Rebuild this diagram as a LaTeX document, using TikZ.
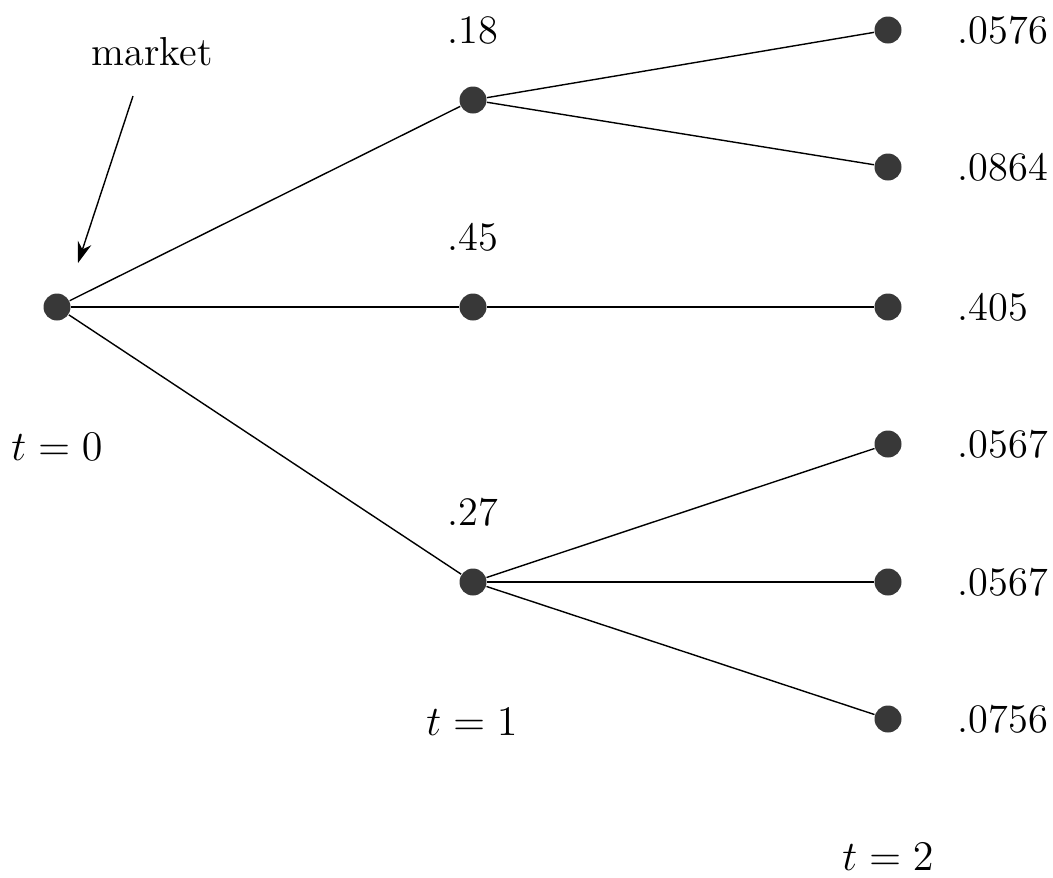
\documentclass[tikz,border=0pt]{standalone}
\usetikzlibrary{positioning,arrows.meta}
\begin{document}
\begin{tikzpicture}[
x=1cm, y=1cm,
node distance=0.41cm,
dot/.style={circle, fill=black!78, inner sep=0pt, minimum size=0.27cm},
val/.style={inner sep=0pt, font=\fontsize{11.5}{13}\selectfont},
edge/.style={line width=0.4pt}
]
\useasboundingbox (0,0) rectangle (10.53,-8.77);
% nodes of the tree
\node[dot] (root) at (0.57,-3.07) {};
\node[dot] (up) at (4.73,-1.00) {};
\node[dot] (mid) at (4.73,-3.07) {};
\node[dot] (down) at (4.73,-5.82) {};
\node[dot] (uu) at (8.88,-0.30) {};
\node[dot] (ud) at (8.88,-1.67) {};
\node[dot] (mm) at (8.88,-3.07) {};
\node[dot] (du) at (8.88,-4.44) {};
\node[dot] (dm) at (8.88,-5.82) {};
\node[dot] (dd) at (8.88,-7.19) {};
% probabilities
\node[val] (pup) [above=of up] {.18};
\node[val] (pmid) [above=of mid] {.45};
\node[val] (pdown) [above=of down] {.27};
\node[val] (puu) [right=0.55cm of uu] {.0576};
\node[val] (pud) [right=0.55cm of ud] {.0864};
\node[val] (pmm) [right=0.55cm of mm] {.405};
\node[val] (pdu) [right=0.55cm of du] {.0567};
\node[val] (pdm) [right=0.55cm of dm] {.0567};
\node[val] (pdd) [right=0.55cm of dd] {.0756};
% times
\node[val] (t0) at (0.57,-4.47) {$t=0$};
\node[val] (t1) at (4.72,-7.22) {$t=1$};
\node[val] (t2) at (8.88,-8.57) {$t=2$};
\node[val] (market) at (1.52,-0.52) {market};
\coordinate (mtail) at (1.33,-0.96);
\coordinate (mtip) at (0.78,-2.63);
% branches
\draw[edge] (root) -- (up);
\draw[edge] (root) -- (mid);
\draw[edge] (root) -- (down);
\draw[edge] (up) -- (uu);
\draw[edge] (up) -- (ud);
\draw[edge] (mid) -- (mm);
\draw[edge] (down) -- (du);
\draw[edge] (down) -- (dm);
\draw[edge] (down) -- (dd);
\draw[edge, -{Stealth[length=6pt, width=4pt]}] (mtail) -- (mtip);
\end{tikzpicture}
\end{document}
